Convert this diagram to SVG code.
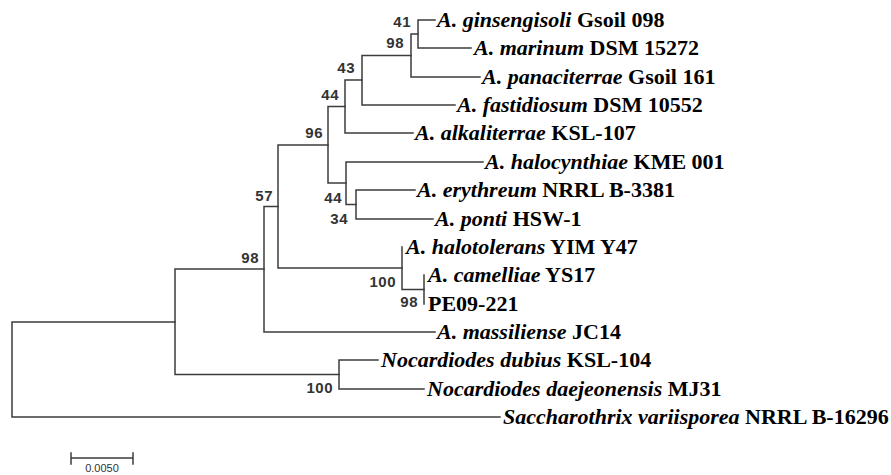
<svg xmlns="http://www.w3.org/2000/svg" width="891" height="475" viewBox="0 0 891 475">
<style>
.br{fill:none;stroke:#3c3c3c;stroke-width:1.5;stroke-linecap:square}
.lab{font-family:"Liberation Serif","Times New Roman",serif;font-size:22px;font-weight:bold;fill:#000}
.it{font-style:italic}
.bs{font-family:"Liberation Sans",Arial,sans-serif;font-size:15px;font-weight:bold;fill:#333;text-anchor:end;letter-spacing:0.5px}
.sc{font-family:"Liberation Sans",Arial,sans-serif;font-size:11px;fill:#333;text-anchor:middle}
</style>
<rect width="891" height="475" fill="#fff"/>
<g id="connectors">
<path class="br" d="M418,34 V20 H435 M418,34 V48 H471"/>
<path class="br" d="M411,55.5 V34 H418 M411,55.5 V77 H480"/>
<path class="br" d="M362,80 V55.5 H411 M362,80 V105 H455"/>
<path class="br" d="M345,106.5 V80 H362 M345,106.5 V133 H413"/>
<path class="br" d="M356,204.5 V190 H415 M356,204.5 V219 H433"/>
<path class="br" d="M346,183 V162 H483 M346,183 V204.5 H356"/>
<path class="br" d="M328,145 V106.5 H345 M328,145 V183 H346"/>
<path class="br" d="M424,289.5 V275 M424,289.5 V304"/>
<path class="br" d="M402,268 V247 M402,268 V289.5 H424"/>
<path class="br" d="M278,206.5 V145 H328 M278,206.5 V268 H402"/>
<path class="br" d="M264,269 V206.5 H278 M264,269 V332 H435"/>
<path class="br" d="M339,374.5 V360 H378 M339,374.5 V389 H424"/>
<path class="br" d="M175,322 V269 H264 M175,322 V374.5 H339"/>
<path class="br" d="M12,369.5 V322 H175 M12,369.5 V417 H500"/>
</g>
<g id="n41"><text class="bs" x="411" y="27">41</text></g>
<g id="n98a"><text class="bs" x="404" y="48">98</text></g>
<g id="n43"><text class="bs" x="355" y="73">43</text></g>
<g id="n44a"><text class="bs" x="339" y="100">44</text></g>
<g id="n96"><text class="bs" x="323" y="138">96</text></g>
<g id="n44b"><text class="bs" x="342" y="203">44</text></g>
<g id="n34"><text class="bs" x="348" y="224">34</text></g>
<g id="n57"><text class="bs" x="273" y="201">57</text></g>
<g id="n98b"><text class="bs" x="259" y="263">98</text></g>
<g id="n100a"><text class="bs" x="396" y="287">100</text></g>
<g id="n98c"><text class="bs" x="418" y="307">98</text></g>
<g id="n100b"><text class="bs" x="333" y="393">100</text></g>
<g id="t0"><text class="lab" x="437" y="27"><tspan class="it">A. ginsengisoli</tspan> Gsoil 098</text></g>
<g id="t1"><text class="lab" x="474" y="55"><tspan class="it">A. marinum</tspan> DSM 15272</text></g>
<g id="t2"><text class="lab" x="482" y="84"><tspan class="it">A. panaciterrae</tspan> Gsoil 161</text></g>
<g id="t3"><text class="lab" x="457" y="112"><tspan class="it">A. fastidiosum</tspan> DSM 10552</text></g>
<g id="t4"><text class="lab" x="415" y="140"><tspan class="it">A. alkaliterrae</tspan> KSL-107</text></g>
<g id="t5"><text class="lab" x="485" y="169"><tspan class="it">A. halocynthiae</tspan> KME 001</text></g>
<g id="t6"><text class="lab" x="417" y="197"><tspan class="it">A. erythreum</tspan> NRRL B-3381</text></g>
<g id="t7"><text class="lab" x="435" y="226"><tspan class="it">A. ponti</tspan> HSW-1</text></g>
<g id="t8"><text class="lab" x="406" y="254"><tspan class="it">A. halotolerans</tspan> YIM Y47</text></g>
<g id="t9"><text class="lab" x="428" y="282"><tspan class="it">A. camelliae</tspan> YS17</text></g>
<g id="t10"><text class="lab" x="428" y="311">PE09-221</text></g>
<g id="t11"><text class="lab" x="437" y="339"><tspan class="it">A. massiliense</tspan> JC14</text></g>
<g id="t12"><text class="lab" x="381" y="367"><tspan class="it">Nocardiodes dubius</tspan> KSL-104</text></g>
<g id="t13"><text class="lab" x="427" y="396"><tspan class="it">Nocardiodes daejeonensis</tspan> MJ31</text></g>
<g id="t14"><text class="lab" x="503" y="424"><tspan class="it">Saccharothrix variisporea</tspan> NRRL B-16296</text></g>
<g id="scale">
<path class="br" d="M71,458 H133 M71,453 V464 M133,453 V464"/>
<text class="sc" x="102" y="472">0.0050</text>
</g>
</svg>
